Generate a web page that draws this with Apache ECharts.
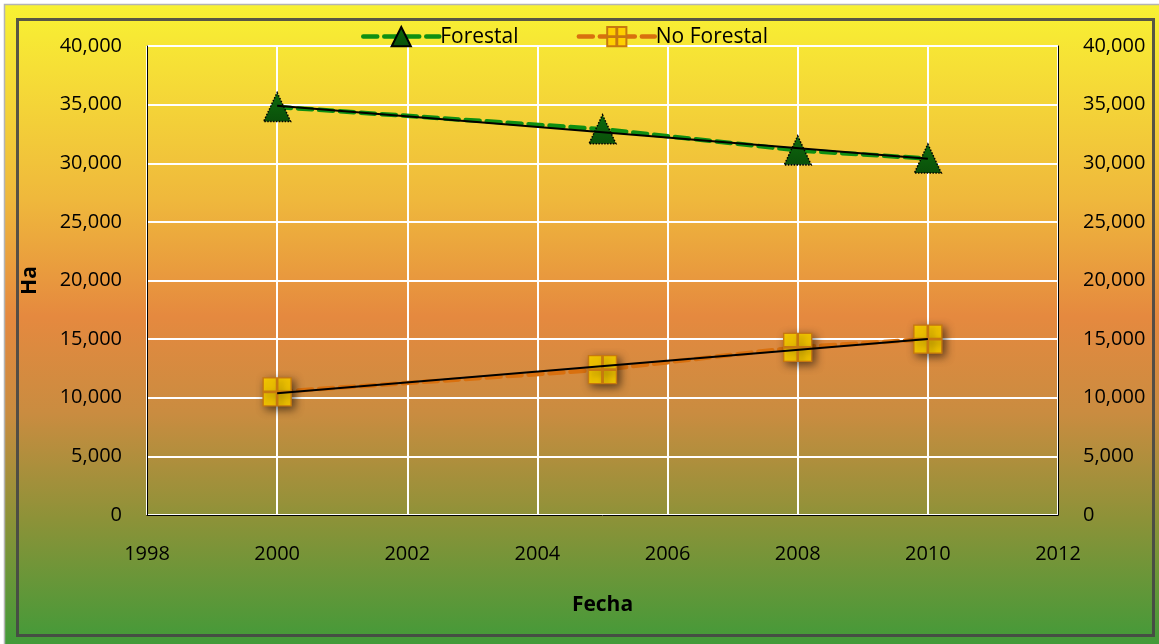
<!DOCTYPE html>
<html>
<head>
<meta charset="utf-8">
<script src="https://cdn.jsdelivr.net/npm/echarts@6/dist/echarts.min.js"></script>
<style>
  html, body { margin: 0; padding: 0; background: #ffffff; }
  #chart { width: 1159px; height: 644px; }
</style>
</head>
<body>
<div id="chart"></div>
<script>
// Land cover area (hectares) by year
const years = [2000, 2005, 2008, 2010];
const forestal = [34800, 32900, 31100, 30400];
const noForestal = [10500, 12400, 14300, 15000];
const seriesNames = ['Forestal', 'No Forestal'];

// Axis settings
const xMin = 1998, xMax = 2012, xStep = 2;
const yMin = 0, yMax = 40000, yStep = 5000;

// Least-squares linear trend, evaluated at the first and last year
function trend(xs, ys) {
  const n = xs.length;
  const mx = xs.reduce((a, b) => a + b, 0) / n;
  const my = ys.reduce((a, b) => a + b, 0) / n;
  let sxy = 0, sxx = 0;
  for (let i = 0; i < n; i++) {
    sxy += (xs[i] - mx) * (ys[i] - my);
    sxx += (xs[i] - mx) * (xs[i] - mx);
  }
  const b = sxy / sxx;
  const x0 = xs[0], x1 = xs[n - 1];
  return [[x0, my + b * (x0 - mx)], [x1, my + b * (x1 - mx)]];
}

const pairs = (ys) => years.map((x, i) => [x, ys[i]]);
const fmt = (v) => v.toLocaleString('en-US');

// Square split into four quadrants; the border between them reads as a cross
const plusSquare = 'path://M0,0H12.4V12.4H0Z M13.6,0H26V12.4H13.6Z M0,13.6H12.4V26H0Z M13.6,13.6H26V26H13.6Z';

const FONT = '"Open Sans", "Noto Sans", sans-serif';
const chart = echarts.init(document.getElementById('chart'), null, { renderer: 'canvas' });

chart.setOption({
  backgroundColor: '#ffffff',
  animation: false,
  textStyle: { fontFamily: FONT, color: '#000' },
  graphic: [
    {
      type: 'rect', z: -100, silent: true,
      shape: { x: 4.5, y: 4.5, width: 1160, height: 650 },
      style: {
        stroke: '#b4b4b4', lineWidth: 1.5,
        fill: new echarts.graphic.LinearGradient(0, 0, 0, 1, [
          { offset: 0.0, color: '#f8f232' },
          { offset: 0.1, color: '#f6df36' },
          { offset: 0.3, color: '#efb83c' },
          { offset: 0.48, color: '#e5893f' },
          { offset: 0.63, color: '#c98c40' },
          { offset: 0.79, color: '#8d9238' },
          { offset: 1.0, color: '#3b9b39' }
        ])
      }
    },
    {
      type: 'rect', z: -90, silent: true,
      shape: { x: 17.5, y: 19.5, width: 1136, height: 616 },
      style: { fill: null, stroke: 'rgba(70,70,70,0.9)', lineWidth: 3 }
    }
  ],
  legend: {
    data: seriesNames,
    left: 356, top: 21,
    itemWidth: 76, itemHeight: 24, itemGap: 58,
    lineStyle: { width: 4.5 },
    textStyle: { fontFamily: FONT, fontSize: 21, color: '#000', padding: [0, 0, 0, -4] },
    selectedMode: false
  },
  grid: { left: 147, right: 101, top: 46, bottom: 129, containLabel: false },
  xAxis: {
    type: 'value', min: xMin, max: xMax, interval: xStep,
    name: 'Fecha', nameLocation: 'middle', nameGap: 80,
    nameTextStyle: { fontFamily: FONT, fontSize: 21, fontWeight: 'bold', color: '#000' },
    axisLine: { show: true, onZero: false, lineStyle: { color: '#000', width: 1 } },
    axisTick: { show: false },
    axisLabel: { fontFamily: FONT, fontSize: 20, color: '#000', margin: 29, formatter: (v) => String(v) },
    splitLine: { show: true, lineStyle: { color: '#ffffff', width: 2 } }
  },
  yAxis: [
    {
      type: 'value', min: yMin, max: yMax, interval: yStep, position: 'left',
      name: 'Ha', nameLocation: 'middle', nameGap: 106, nameRotate: 90,
      nameTextStyle: { fontFamily: FONT, fontSize: 21, fontWeight: 'bold', color: '#000' },
      axisLine: { show: true, lineStyle: { color: '#000', width: 1 } },
      axisTick: { show: false },
      axisLabel: { fontFamily: FONT, fontSize: 20, color: '#000', margin: 25, formatter: fmt },
      splitLine: { show: true, lineStyle: { color: '#ffffff', width: 2 } }
    },
    {
      type: 'value', min: yMin, max: yMax, interval: yStep, position: 'right',
      axisLine: { show: true, lineStyle: { color: '#000', width: 1 } },
      axisTick: { show: false },
      axisLabel: { fontFamily: FONT, fontSize: 20, color: '#000', margin: 25, formatter: fmt },
      splitLine: { show: false }
    }
  ],
  series: [
    {
      name: 'Forestal', type: 'line', data: pairs(forestal), z: 3,
      symbol: 'triangle', symbolSize: [27, 29], showSymbol: true,
      lineStyle: { color: '#0f8f12', width: 4.5, type: [14, 7], cap: 'round' },
      itemStyle: {
        color: new echarts.graphic.LinearGradient(0, 0, 0, 1, [
          { offset: 0, color: '#0d6a0d' },
          { offset: 1, color: '#0a4f0a' }
        ]),
        borderColor: '#000', borderWidth: 1.5, borderType: 'dotted'
      }
    },
    {
      name: 'No Forestal', type: 'line', data: pairs(noForestal), z: 3,
      symbol: plusSquare, symbolSize: 28, showSymbol: true,
      lineStyle: { color: '#d9700e', width: 4.5, type: [14, 7], cap: 'round' },
      itemStyle: {
        color: '#ffcf00', borderColor: '#c7780f', borderWidth: 1.4,
        shadowColor: 'rgba(0,0,0,0.55)', shadowBlur: 8, shadowOffsetX: 3, shadowOffsetY: 3
      }
    },
    {
      name: 'trend-forestal', type: 'line', data: trend(years, forestal), z: 5,
      symbol: 'none', silent: true,
      lineStyle: { color: '#000', width: 2 }
    },
    {
      name: 'trend-noforestal', type: 'line', data: trend(years, noForestal), z: 5,
      symbol: 'none', silent: true,
      lineStyle: { color: '#000', width: 2 }
    }
  ]
});
</script>
</body>
</html>
